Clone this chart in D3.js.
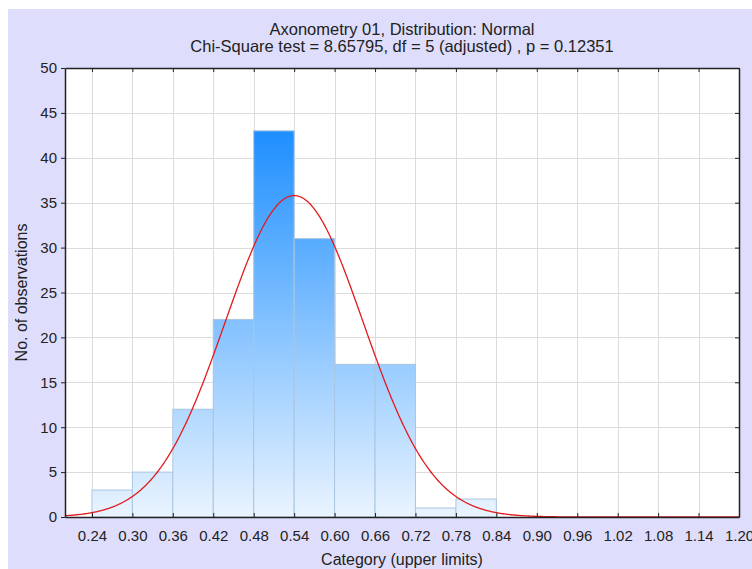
<!DOCTYPE html>
<html>
<head>
<meta charset="utf-8">
<script src="https://cdn.jsdelivr.net/npm/d3@7"></script>
<style>
  body { margin: 0; background: #fff; }
  svg { display: block; font-family: "Liberation Sans", Arial, sans-serif; }
</style>
</head>
<body>
<svg width="752" height="569"></svg>
<script>
// histogram data (class limits and counts)
var binLower = [0.24, 0.30, 0.36, 0.42, 0.48, 0.54, 0.60, 0.66, 0.72, 0.78];
var binUpper = [0.30, 0.36, 0.42, 0.48, 0.54, 0.60, 0.66, 0.72, 0.78, 0.84];
var counts   = [3, 5, 12, 22, 43, 31, 17, 17, 1, 2];

// tick labels
var xTicks = [0.24, 0.30, 0.36, 0.42, 0.48, 0.54, 0.60, 0.66, 0.72, 0.78, 0.84, 0.90, 0.96, 1.02, 1.08, 1.14, 1.20];
var yTicks = [0, 5, 10, 15, 20, 25, 30, 35, 40, 45, 50];

// fitted normal (parameters of the expected curve)
var fitMean = 0.54, fitSd = 0.1023, binWidth = 0.06;

var titleLines = ["Axonometry 01, Distribution: Normal",
                  "Chi-Square test = 8.65795, df = 5 (adjusted) , p = 0.12351"];

var svg = d3.select("svg");
var margin = { left: 65, right: 12, top: 68, bottom: 52 };
var W = 752, H = 569;

// background panel
svg.append("rect").attr("x", 8).attr("y", 9).attr("width", W - 8).attr("height", H - 9)
    .attr("fill", "#dedefc");

var x = d3.scaleLinear().domain([0.20, 1.20]).range([margin.left, W - margin.right - 1]);
var y = d3.scaleLinear().domain([0, 50]).range([H - margin.bottom, margin.top]);

// plot area
svg.append("rect")
    .attr("x", x.range()[0]).attr("y", y.range()[1])
    .attr("width", x.range()[1] - x.range()[0]).attr("height", y.range()[0] - y.range()[1])
    .attr("fill", "#fff");

// grid
var grid = svg.append("g").attr("stroke", "#dcdcdc").attr("stroke-width", 1);
grid.selectAll(".gx").data(xTicks.slice(0, -1)).enter().append("line")
    .attr("x1", function (d) { return Math.round(x(d)) + 0.5; })
    .attr("x2", function (d) { return Math.round(x(d)) + 0.5; })
    .attr("y1", y(0)).attr("y2", y(50));
grid.selectAll(".gy").data(yTicks.slice(1, -1)).enter().append("line")
    .attr("y1", function (d) { return Math.round(y(d)) + 0.5; })
    .attr("y2", function (d) { return Math.round(y(d)) + 0.5; })
    .attr("x1", x(0.2)).attr("x2", x(1.2));

// gradient for bars
var defs = svg.append("defs");
var grad = defs.append("linearGradient").attr("id", "barGrad")
    .attr("gradientUnits", "userSpaceOnUse")
    .attr("x1", 0).attr("x2", 0).attr("y1", y(43)).attr("y2", y(0));
grad.append("stop").attr("offset", "0%").attr("stop-color", "#1e8fff");
grad.append("stop").attr("offset", "100%").attr("stop-color", "#eaf4ff");

// bars
svg.append("g").selectAll("rect").data(counts).enter().append("rect")
    .attr("x", function (d, i) { return x(binLower[i]); })
    .attr("width", function (d, i) { return x(binUpper[i]) - x(binLower[i]); })
    .attr("y", function (d) { return y(d); })
    .attr("height", function (d) { return y(0) - y(d); })
    .attr("fill", "url(#barGrad)")
    .attr("stroke", "#a9c6e0")
    .attr("stroke-width", 1);

// expected normal curve
var total = d3.sum(counts);
var curveX = d3.range(0.20, 1.2001, 0.002);
var line = d3.line()
    .x(function (d) { return x(d); })
    .y(function (d) {
        var z = (d - fitMean) / fitSd;
        return y(total * binWidth / (fitSd * Math.sqrt(2 * Math.PI)) * Math.exp(-0.5 * z * z));
    });
svg.append("path").datum(curveX).attr("d", line)
    .attr("fill", "none").attr("stroke", "#e31a1c").attr("stroke-width", 1.3);

// axes
var fmt = d3.format(".2f");
var xAxis = svg.append("g").attr("transform", "translate(0," + y(0) + ")")
    .call(d3.axisBottom(x).tickValues(xTicks).tickFormat(fmt).tickSizeInner(-4).tickSizeOuter(0).tickPadding(13));
var yAxis = svg.append("g").attr("transform", "translate(" + x(0.2) + ",0)")
    .call(d3.axisLeft(y).tickValues(yTicks).tickSizeInner(4).tickSizeOuter(0).tickPadding(4));
var topAxis = svg.append("g").attr("transform", "translate(0," + y(50) + ")")
    .call(d3.axisTop(x).tickValues(xTicks).tickFormat("").tickSizeInner(-4).tickSizeOuter(0));
var rightAxis = svg.append("g").attr("transform", "translate(" + x(1.2) + ",0)")
    .call(d3.axisRight(y).tickValues(yTicks).tickFormat("").tickSizeInner(-4).tickSizeOuter(0));

[xAxis, yAxis, topAxis, rightAxis].forEach(function (a) {
    a.select(".domain").attr("stroke", "#222").attr("stroke-width", 1.5);
    a.selectAll(".tick line").attr("stroke", "#222");
    a.selectAll("text").attr("font-size", 15).attr("fill", "#222")
        .attr("font-family", "'Liberation Sans', Arial, sans-serif");
});

// titles
svg.selectAll(".title").data(titleLines).enter().append("text")
    .attr("x", (x(0.2) + x(1.2)) / 2)
    .attr("y", function (d, i) { return 35 + i * 17; })
    .attr("text-anchor", "middle").attr("font-size", 16.5).attr("fill", "#222")
    .text(function (d) { return d; });

svg.append("text")
    .attr("x", (x(0.2) + x(1.2)) / 2).attr("y", 565)
    .attr("text-anchor", "middle").attr("font-size", 16).attr("fill", "#222")
    .text("Category (upper limits)");

svg.append("text")
    .attr("transform", "translate(27," + (y(25)) + ") rotate(-90)")
    .attr("text-anchor", "middle").attr("font-size", 16).attr("fill", "#222")
    .text("No. of observations");
</script>
</body>
</html>
